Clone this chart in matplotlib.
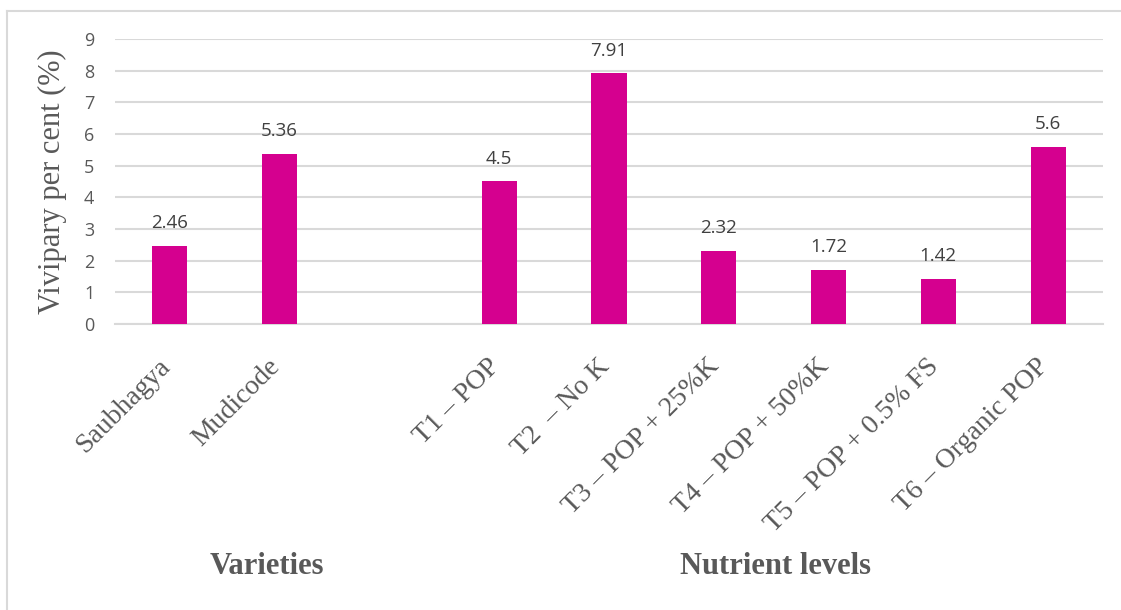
import matplotlib
matplotlib.use("Agg")
import matplotlib.pyplot as plt
from matplotlib.lines import Line2D
from matplotlib.transforms import ScaledTranslation

# Vivipary by variety and by nutrient treatment (blank slot separates the groups)
categories = ["Saubhagya", "Mudicode", "",
              "T1 \u2013 POP", "T2  \u2013 No K", "T3 \u2013 POP + 25%K",
              "T4 \u2013 POP + 50%K", "T5 \u2013 POP + 0.5% FS", "T6 \u2013 Organic POP"]
values = [2.46, 5.36, None, 4.5, 7.91, 2.32, 1.72, 1.42, 5.6]
value_labels = ["2.46", "5.36", "", "4.5", "7.91", "2.32", "1.72", "1.42", "5.6"]
group_names = ["Varieties", "Nutrient levels"]

BAR = "#D5008F"
GRID = "#D9D9D9"
TXT = "#595959"
SERIF = "Liberation Serif"
SANS = "Open Sans"

fig = plt.figure(figsize=(11.21, 6.10), dpi=100)
ax = fig.add_axes([0.1026, 0.4689, 0.8813, 0.4672])

xs = list(range(len(categories)))
for x, v, lab in zip(xs, values, value_labels):
    if v is None:
        continue
    ax.bar(x, v, width=0.32, color=BAR, zorder=3)
    ax.annotate(lab, (x, v), xytext=(0, 10), textcoords="offset points",
                ha="center", va="bottom", fontsize=13.5, family=SANS, color="#404040")

ax.set_xlim(-0.5, len(categories) - 0.5)
ax.set_ylim(0, 9)
ax.set_yticks(range(10))
ax.yaxis.grid(True, color=GRID, linewidth=1.5, zorder=0)
for s in ["top", "right", "left"]:
    ax.spines[s].set_visible(False)
ax.spines["bottom"].set_color(GRID)
ax.spines["bottom"].set_linewidth(1.5)
ax.tick_params(axis="y", length=0, pad=15, labelsize=13, labelcolor=TXT)
for t in ax.get_yticklabels():
    t.set_family(SANS)

ax.set_xticks(xs)
ax.set_xticklabels(categories, rotation=45, ha="right", va="top",
                   rotation_mode="anchor", family=SERIF, fontsize=20, color=TXT)
ax.tick_params(axis="x", length=0, pad=18)
# nudge the slanted labels so their ends sit under the bars
shift = ScaledTranslation(-0.12, -0.05, fig.dpi_scale_trans)
for t in ax.get_xticklabels():
    t.set_transform(t.get_transform() + shift)

ax.set_ylabel("Vivipary per cent (%)", family=SERIF, fontsize=22, color=TXT, labelpad=12)

fig.text(267 / 1121, 1 - 567 / 610, group_names[0], ha="center", va="center",
         family=SERIF, fontsize=22, fontweight="bold", color=TXT)
fig.text(775 / 1121, 1 - 567 / 610, group_names[1], ha="center", va="center",
         family=SERIF, fontsize=22, fontweight="bold", color=TXT)

# chart area frame (top and left edges)
fig.add_artist(Line2D([7 / 1121, 7 / 1121], [0, 1 - 11 / 610], transform=fig.transFigure,
                      color=GRID, linewidth=1.5))
fig.add_artist(Line2D([7 / 1121, 1], [1 - 11 / 610, 1 - 11 / 610], transform=fig.transFigure,
                      color=GRID, linewidth=1.5))

fig.savefig("out.png", dpi=100)
